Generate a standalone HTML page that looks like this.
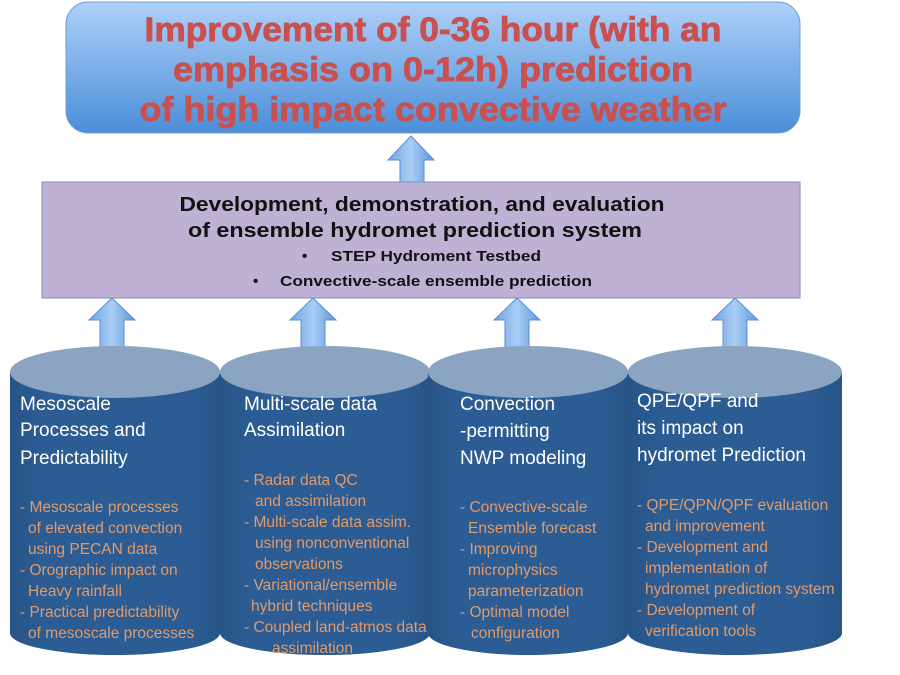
<!DOCTYPE html>
<html><head><meta charset="utf-8"><style>
html,body{margin:0;padding:0;background:#fff;}
svg{display:block;}
</style></head><body>
<svg width="900" height="675" viewBox="0 0 900 675" xmlns="http://www.w3.org/2000/svg">
<defs>
<linearGradient id="tg" x1="0" y1="0" x2="0" y2="1">
<stop offset="0" stop-color="#aed0f8"/><stop offset="1" stop-color="#4b8ed8"/></linearGradient>
<linearGradient id="ag" x1="0" y1="0" x2="1" y2="0">
<stop offset="0" stop-color="#6fa6e2"/><stop offset="0.5" stop-color="#a9cdf5"/><stop offset="1" stop-color="#5d96d8"/></linearGradient>
<linearGradient id="cg" x1="0" y1="0" x2="1" y2="0">
<stop offset="0" stop-color="#275487"/><stop offset="0.15" stop-color="#2b5c93"/><stop offset="0.85" stop-color="#2b5c93"/><stop offset="1" stop-color="#275487"/></linearGradient>
</defs>

<rect x="66" y="2" width="734" height="131" rx="22" fill="url(#tg)" stroke="#6f9ed6" stroke-width="1"/>
<g font-family="Liberation Sans, sans-serif" font-weight="bold" font-size="34" fill="#c9504e" stroke="#c9504e" stroke-width="0.8" text-anchor="middle">
<text x="433" y="41" textLength="577" lengthAdjust="spacingAndGlyphs">Improvement of 0-36 hour (with an</text>
<text x="433" y="81" textLength="520" lengthAdjust="spacingAndGlyphs">emphasis on 0-12h) prediction</text>
<text x="433" y="121" textLength="587" lengthAdjust="spacingAndGlyphs">of high impact convective weather</text>
</g>

<polygon points="411,136 434,160 424,160 424,183 400,183 400,160 388,160" fill="url(#ag)" stroke="#5d8fcf" stroke-width="1"/>

<rect x="42" y="182" width="758" height="116" fill="#bfb1d3" stroke="#8b9cc6" stroke-width="1.2"/>
<g font-family="Liberation Sans, sans-serif" font-weight="bold" fill="#111" text-anchor="middle">
<text x="422" y="211" font-size="20" textLength="485" lengthAdjust="spacingAndGlyphs">Development, demonstration, and evaluation</text>
<text x="415" y="237" font-size="20" textLength="454" lengthAdjust="spacingAndGlyphs">of ensemble hydromet prediction system</text>
</g>
<g font-family="Liberation Sans, sans-serif" font-weight="bold" font-size="15" fill="#111">
<text x="302" y="261">•</text>
<text x="331" y="261" textLength="210" lengthAdjust="spacingAndGlyphs">STEP Hydroment Testbed</text>
<text x="253" y="286">•</text>
<text x="280" y="286" textLength="312" lengthAdjust="spacingAndGlyphs">Convective-scale ensemble prediction</text>
</g>

<g fill="url(#ag)" stroke="#5d8fcf" stroke-width="1">
<polygon points="112,298 135,320 124,320 124,352 100,352 100,320 89,320"/>
<polygon points="313,298 336,320 325,320 325,352 301,352 301,320 290,320"/>
<polygon points="517,298 540,320 529,320 529,352 505,352 505,320 494,320"/>
<polygon points="735,298 758,320 747,320 747,352 723,352 723,320 712,320"/>
</g>

<g>
<path d="M10,372 L10,633 A105,22 0 0 0 220,633 L220,372 Z" fill="url(#cg)"/>
<ellipse cx="115" cy="372" rx="105" ry="26" fill="#8aa4c2"/>
<path d="M220,372 L220,633 A105,22 0 0 0 430,633 L430,372 Z" fill="url(#cg)"/>
<ellipse cx="325" cy="372" rx="105" ry="26" fill="#8aa4c2"/>
<path d="M428,372 L428,633 A100,22 0 0 0 628,633 L628,372 Z" fill="url(#cg)"/>
<ellipse cx="528" cy="372" rx="100" ry="26" fill="#8aa4c2"/>
<path d="M628,372 L628,633 A107,22 0 0 0 842,633 L842,372 Z" fill="url(#cg)"/>
<ellipse cx="735" cy="372" rx="107" ry="26" fill="#8aa4c2"/>
</g>

<g font-family="Liberation Sans, sans-serif" font-size="19" fill="#fff">
<text x="20" y="410">Mesoscale</text>
<text x="20" y="436">Processes and</text>
<text x="20" y="464">Predictability</text>
<text x="244" y="410">Multi-scale data</text>
<text x="244" y="436">Assimilation</text>
<text x="460" y="410">Convection</text>
<text x="460" y="437">-permitting</text>
<text x="460" y="464">NWP modeling</text>
<text x="637" y="407">QPE/QPF and</text>
<text x="637" y="434">its impact on</text>
<text x="637" y="461">hydromet Prediction</text>
</g>

<g font-family="Liberation Sans, sans-serif" font-size="15.5" fill="#e29a6a">
<text x="20" y="512">- Mesoscale processes</text>
<text x="28" y="533">of elevated convection</text>
<text x="28" y="554">using PECAN data</text>
<text x="20" y="575">- Orographic impact on</text>
<text x="28" y="596">Heavy rainfall</text>
<text x="20" y="617">- Practical predictability</text>
<text x="28" y="638">of mesoscale processes</text>

<text x="244" y="485">-  Radar data QC</text>
<text x="255" y="506">and assimilation</text>
<text x="244" y="527">-  Multi-scale  data assim.</text>
<text x="255" y="548">using nonconventional</text>
<text x="255" y="569">observations</text>
<text x="244" y="590">- Variational/ensemble</text>
<text x="251" y="611">hybrid techniques</text>
<text x="244" y="632">- Coupled land-atmos data</text>
<text x="272" y="653">assimilation</text>

<text x="460" y="512">- Convective-scale</text>
<text x="468" y="533">Ensemble forecast</text>
<text x="460" y="554">- Improving</text>
<text x="468" y="575">microphysics</text>
<text x="468" y="596">parameterization</text>
<text x="460" y="617">- Optimal model</text>
<text x="471" y="638">configuration</text>

<text x="637" y="510">- QPE/QPN/QPF evaluation</text>
<text x="645" y="531">and improvement</text>
<text x="637" y="552">- Development and</text>
<text x="645" y="573">implementation of</text>
<text x="645" y="594">hydromet prediction system</text>
<text x="637" y="615">- Development of</text>
<text x="645" y="636">verification tools</text>
</g>
</svg>
</body></html>
